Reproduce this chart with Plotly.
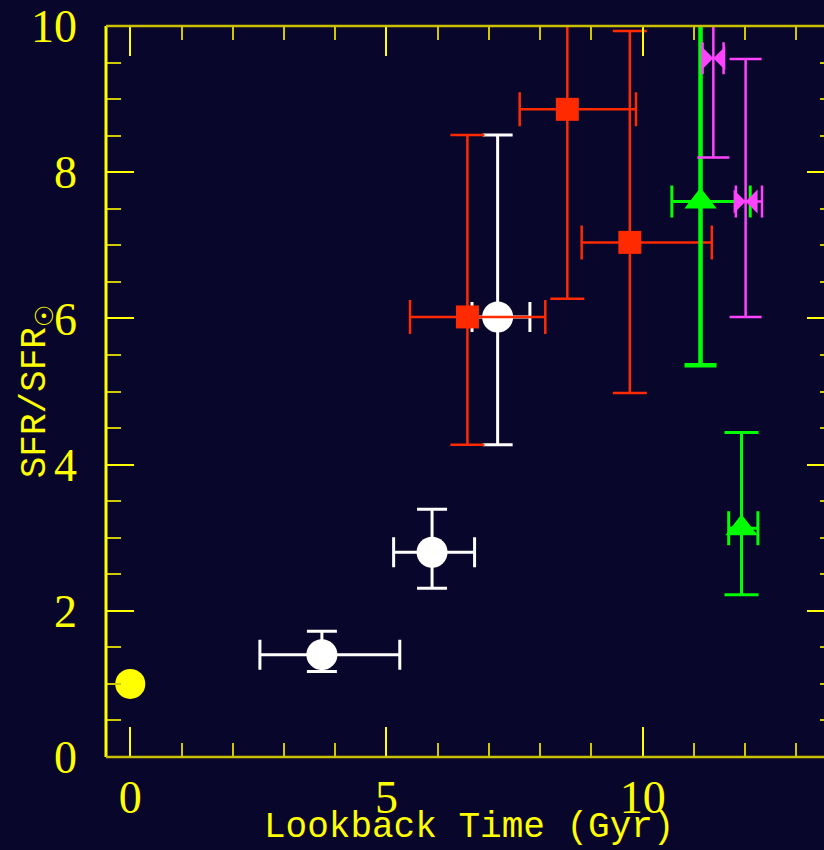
import plotly.graph_objects as go

# ---- data ----
yellow_x = [0.0]
yellow_y = [1.0]

white_x = [3.74, 5.89, 7.17]
white_y = [1.40, 2.80, 6.02]
white_xm = [1.21, 0.75, 0.50]
white_xp = [1.52, 0.83, 0.63]
white_ym = [0.23, 0.49, 1.75]
white_yp = [0.32, 0.59, 2.49]

red_x = [6.58, 8.53, 9.75]
red_y = [6.02, 8.86, 7.04]
red_xm = [1.12, 0.93, 0.94]
red_xp = [1.52, 1.34, 1.60]
red_ym = [1.75, 2.59, 2.06]
red_yp = [2.49, 1.50, 2.89]

green_a_x = [11.13]
green_a_y = [7.60]
green_a_xm = [0.56]
green_a_xp = [0.97]
green_a_ym = [2.24]
green_a_yp = [3.00]

green_b_x = [11.93]
green_b_y = [3.13]
green_b_xm = [0.25]
green_b_xp = [0.32]
green_b_ym = [0.91]
green_b_yp = [1.31]

mag_x = [11.38, 12.01]
mag_y = [9.56, 7.60]
mag_xm = [0.21, 0.19]
mag_xp = [0.20, 0.32]
mag_ym = [1.36, 1.58]
mag_yp = [1.00, 1.95]

x_ticks = [0, 5, 10]
y_ticks = [0, 2, 4, 6, 8, 10]

BG = "#08062a"
YEL = "#ffff00"

fig = go.Figure()

def add(x, y, xm, xp, ym, yp, color, symbol, size, thick, capw=16, ythick=None):
    fig.add_trace(go.Scatter(
        x=x, y=y, mode="markers",
        marker=dict(color=color, symbol=symbol, size=size, line=dict(width=0)),
        error_x=dict(type="data", symmetric=False, array=xp, arrayminus=xm,
                     color=color, thickness=thick, width=capw),
        error_y=dict(type="data", symmetric=False, array=yp, arrayminus=ym,
                     color=color, thickness=ythick or thick, width=capw),
        showlegend=False, cliponaxis=True))

fig.add_trace(go.Scatter(x=yellow_x, y=yellow_y, mode="markers",
                         marker=dict(color=YEL, size=30, symbol="circle"),
                         showlegend=False))
add(white_x, white_y, white_xm, white_xp, white_ym, white_yp, "#ffffff", "circle", 31, 3, 15)
add(red_x, red_y, red_xm, red_xp, red_ym, red_yp, "#ff2a00", "square", 23, 2.5, 17)
add(green_a_x, green_a_y, green_a_xm, green_a_xp, green_a_ym, green_a_yp,
    "#00ff00", "triangle-up", 28, 3, 16, ythick=4.5)
add(green_b_x, green_b_y, green_b_xm, green_b_xp, green_b_ym, green_b_yp,
    "#00ff00", "triangle-up", 28, 3, 17)
add(mag_x, mag_y, mag_xm, mag_xp, mag_ym, mag_yp, "#ff44ff", "bowtie", 24, 2.5, 16)

# invisible trace for right overlay axis
fig.add_trace(go.Scatter(x=[0], y=[0], yaxis="y2", mode="markers",
                         marker=dict(opacity=0), showlegend=False, hoverinfo="skip"))

tickfont = dict(family="Liberation Serif", size=46, color=YEL)

fig.update_layout(
    width=824, height=850,
    margin=dict(l=106, r=0, t=26, b=93),
    paper_bgcolor=BG, plot_bgcolor=BG,
    xaxis=dict(range=[-0.474, 13.54], showgrid=False, zeroline=False,
               showline=False, tickvals=x_ticks, ticks="inside", ticklen=30,
               tickwidth=2, tickcolor=YEL, mirror="ticks",
               minor=dict(dtick=1, tick0=0, ticks="inside", ticklen=14,
                          tickwidth=2, tickcolor="#d0c800", showgrid=False),
               tickfont=tickfont, ticklabelstandoff=9),
    yaxis=dict(range=[0, 10], showgrid=False, zeroline=False, showline=False,
               tickvals=y_ticks, ticks="inside", ticklen=28, tickwidth=2,
               tickcolor=YEL,
               minor=dict(dtick=0.5, tick0=0, ticks="inside", ticklen=15,
                          tickwidth=2, tickcolor="#d0c800", showgrid=False),
               tickfont=tickfont, ticklabelstandoff=28),
    yaxis2=dict(range=[0, 10], overlaying="y", side="right", anchor="x",
                showgrid=False, zeroline=False, showline=False,
                tickvals=y_ticks, ticks="inside", ticklen=17, tickwidth=2,
                tickcolor=YEL, showticklabels=False,
                minor=dict(dtick=0.5, tick0=0, ticks="inside", ticklen=4,
                           tickwidth=2, tickcolor="#d0c800")),
    shapes=[
        dict(type="line", xref="paper", yref="paper", x0=0, x1=0, y0=0, y1=1,
             line=dict(color=YEL, width=3)),
        dict(type="line", xref="paper", yref="paper", x0=0, x1=1, y0=0, y1=0,
             line=dict(color="#c8c000", width=2.5)),
        dict(type="line", xref="paper", yref="paper", x0=0, x1=1, y0=1, y1=1,
             line=dict(color="#c8c000", width=2.5)),
    ],
    annotations=[
        dict(text="Lookback Time (Gyr)", xref="paper", yref="paper",
             x=0.505, y=-0.097, xanchor="center", yanchor="middle",
             showarrow=False,
             font=dict(family="Liberation Mono", size=36, color=YEL)),
        dict(text="SFR/SFR<sub>☉</sub>", xref="paper", yref="paper",
             x=-0.095, y=0.50, xanchor="center", yanchor="middle",
             textangle=-90, showarrow=False,
             font=dict(family="Liberation Mono", size=36, color=YEL)),
    ],
)

fig.write_html("out.html")
